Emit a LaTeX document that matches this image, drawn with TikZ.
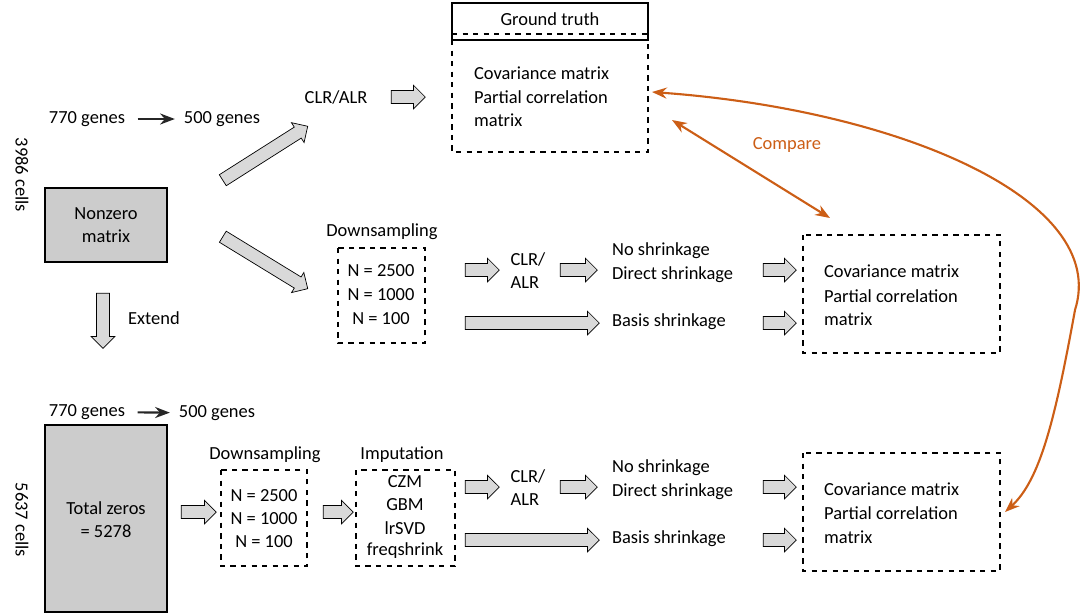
\documentclass[tikz,border=0pt]{standalone}
\usepackage{fontspec}
\setmainfont{Carlito}
\usetikzlibrary{shapes.arrows,calc,arrows.meta}
\definecolor{cmpor}{RGB}{204,94,22}
\tikzset{txt/.style={font=\fontsize{10.5}{13}\selectfont,inner sep=1pt},
  lft/.style={txt,align=left,anchor=west},
  dbox/.style={draw,dashed,thick,inner sep=0pt},
  gbox/.style={draw,thick,fill=gray!40},
  gene/.style={-{Stealth},line width=1.2pt,gray!30!black,shorten <=6pt,shorten >=4pt},
  fatarr/.style={single arrow,draw,fill=gray!30,inner xsep=0pt,inner ysep=3.5pt,
    single arrow head extend=3pt,single arrow head indent=0pt}}
\newcommand{\fat}[2]{\path let \p1=#1, \p2=#2, \n1={atan2(\y2-\y1,\x2-\x1)},
  \n2={veclen(\x2-\x1,\y2-\y1)} in
  node[fatarr,minimum height=\n2,rotate=\n1] at ($#1!0.5!#2$) {};}
\begin{document}
\begin{tikzpicture}[x=0.02cm,y=-0.02cm]
    \useasboundingbox (0,0) rectangle (1080,616);
    % top row
    \node[txt,rotate=-90] (c1) at (22,175) {3986 cells};
    \node[txt] (g1) at (87,119) {770 genes};
    \node[txt] (h1) at (222,119) {500 genes};
    \draw[gene] (g1) -- (h1);
    \draw[gbox] (45,188) rectangle (167,262);
    \node[txt,align=center] (nz) at (106,225) {Nonzero\\matrix};
    \fat{(220,182)}{(305,128)}
    \node[txt] (clr0) at (336,97) {CLR/ALR};
    \fat{(388,97)}{(422,97)}
    \draw[thick] (452,3) rectangle (648,40);
    \draw[thick,dashed] (452,34) -- (648,34);
    \node[txt] (gt) at (550,19) {Ground truth};
    \draw[dbox] (452,40) rectangle (648,152);
    \node[lft] (gt1) at (472,73) {Covariance matrix};
    \node[lft] (gt2) at (472,97) {Partial correlation};
    \node[lft] (gt3) at (472,120) {matrix};
    % middle row
    \fat{(220,235)}{(305,287)}
    \node[txt] (ds1) at (382,232) {Downsampling};
    \draw[dbox] (338,248) rectangle (425,343);
    \node[txt] (n11) at (381,271) {N = 2500};
    \node[txt] (n12) at (381,295) {N = 1000};
    \node[txt] (n13) at (381,319) {N = 100};
    \fat{(462,270)}{(496,270)}
    \node[txt,align=left] (clr1) at (528,271) {CLR/\\ALR};
    \fat{(557,270)}{(594,270)}
    \node[lft] (ns1) at (610,251) {No shrinkage};
    \node[lft] (dsh1) at (610,275) {Direct shrinkage};
    \fat{(760,270)}{(793,270)}
    \fat{(462,323)}{(596,323)}
    \node[lft] (bs1) at (610,322) {Basis shrinkage};
    \fat{(760,323)}{(793,323)}
    \draw[dbox] (803,235) rectangle (1000,353);
    \node[lft] (m1) at (822,271) {Covariance matrix};
    \node[lft] (m2) at (822,296) {Partial correlation};
    \node[lft] (m3) at (822,319) {matrix};
    \fat{(103,290)}{(103,345)}
    \node[txt] (ext) at (154,318) {Extend};
    % bottom row
    \node[txt,rotate=-90] (c2) at (22,520) {5637 cells};
    \node[txt] (g2) at (87,412) {770 genes};
    \node[txt] (h2) at (217,413) {500 genes};
    \draw[gene] (g2) -- (h2);
    \draw[gbox] (45,425) rectangle (167,612);
    \node[txt,align=center] (tz) at (106,520) {Total zeros\\= 5278};
    \fat{(178,512)}{(213,512)}
    \node[txt] (ds2) at (265,455) {Downsampling};
    \draw[dbox] (221,470) rectangle (307,566);
    \node[txt] (n21) at (264,496) {N = 2500};
    \node[txt] (n22) at (264,519) {N = 1000};
    \node[txt] (n23) at (264,542) {N = 100};
    \fat{(320,512)}{(350,512)}
    \node[txt] (imp) at (402,455) {Imputation};
    \draw[dbox] (356,470) rectangle (455,566);
    \node[txt] (i1) at (405,482) {CZM};
    \node[txt] (i2) at (405,505) {GBM};
    \node[txt] (i3) at (405,528) {lrSVD};
    \node[txt] (i4) at (405,551) {freqshrink};
    \fat{(462,487)}{(496,487)}
    \node[txt,align=left] (clr2) at (528,488) {CLR/\\ALR};
    \fat{(557,487)}{(594,487)}
    \node[lft] (ns2) at (610,468) {No shrinkage};
    \node[lft] (dsh2) at (610,492) {Direct shrinkage};
    \fat{(760,487)}{(793,487)}
    \fat{(462,540)}{(596,540)}
    \node[lft] (bs2) at (610,539) {Basis shrinkage};
    \fat{(760,540)}{(793,540)}
    \draw[dbox] (803,453) rectangle (1000,571);
    \node[lft] (b1) at (822,489) {Covariance matrix};
    \node[lft] (b2) at (822,513) {Partial correlation};
    \node[lft] (b3) at (822,537) {matrix};
    % compare
    \coordinate (gtr) at (652,92);
    \coordinate (gtl) at (672,120);
    \coordinate (mt) at (830,218);
    \coordinate (br) at (1005,512);
    \draw[{Stealth}-{Stealth},cmpor,very thick] (gtl) -- (mt);
    \node[txt,text=cmpor] (cmp) at (787,145) {Compare};
    \draw[{Stealth}-{Stealth},cmpor,very thick] (gtr)
      .. controls (900,110) and (1110,200) .. (1075,310)
      .. controls (1055,420) and (1040,480) .. (br);
\end{tikzpicture}
\end{document}
